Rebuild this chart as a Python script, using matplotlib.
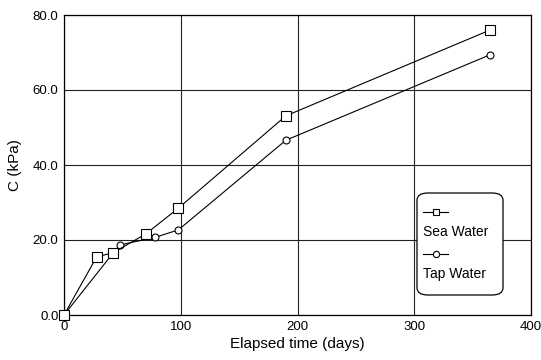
import matplotlib.pyplot as plt
from matplotlib.patches import FancyBboxPatch
from matplotlib.lines import Line2D

plt.rcParams['font.family'] = ['Liberation Sans', 'DejaVu Sans']

# values
sea_days = [0, 28, 42, 70, 98, 190, 365]
sea_c = [0.0, 15.5, 16.6, 21.6, 28.5, 53.1, 76.0]
tap_days = [0, 42, 48, 78, 98, 190, 365]
tap_c = [0.0, 16.5, 18.7, 20.7, 22.7, 46.6, 69.4]

x_ticks = [0, 100, 200, 300, 400]
y_ticks = [0, 20, 40, 60, 80]

W, H = 541, 360
fig = plt.figure(figsize=(W / 100, H / 100), dpi=100)
ax = fig.add_axes([64 / W, 1 - 315 / H, (531 - 64) / W, (315 - 15) / H])

ax.plot(sea_days, sea_c, '-', color='black', lw=0.8, marker='s', ms=6.5,
        mfc='white', mec='black', mew=0.8, zorder=4, clip_on=False)
ax.plot(tap_days, tap_c, '-', color='black', lw=0.8, marker='o', ms=5,
        mfc='white', mec='black', mew=0.8, zorder=3, clip_on=False)

ax.set_xlim(0, 400)
ax.set_ylim(0, 80)
ax.set_xticks(x_ticks)
ax.set_yticks(y_ticks)
ax.set_yticklabels([f"{v:.1f}" for v in y_ticks])
ax.tick_params(length=0, labelsize=9.5, pad=4)
ax.grid(True, color='#222222', lw=0.8)
ax.set_axisbelow(True)
for s in ax.spines.values():
   s.set_linewidth(0.9)

ax.set_xlabel("Elapsed time (days)", fontsize=11, labelpad=3)
ax.set_ylabel("C (kPa)", fontsize=11, labelpad=8)

# legend: marker sample above each label, drawn in figure pixels
def fx(px):
   return px / W

def fy(py):
   return 1 - py / H

box = FancyBboxPatch((fx(417), fy(295)), fx(503) - fx(417), fy(193) - fy(295),
                     boxstyle="round,pad=0,rounding_size=0.02",
                     transform=fig.transFigure, facecolor='white',
                     edgecolor='black', lw=0.9, zorder=10)
fig.add_artist(box)

for py, mk, ms, label, ty in [(212, 's', 5, "Sea Water", 232), (254, 'o', 4.5, "Tap Water", 274)]:
   fig.add_artist(Line2D([fx(423), fx(448)], [fy(py), fy(py)], transform=fig.transFigure,
                         color='black', lw=0.8, marker=None, zorder=11))
   fig.add_artist(Line2D([fx(436)], [fy(py)], transform=fig.transFigure, marker=mk, ms=ms,
                         mfc='white', mec='black', mew=0.8, zorder=12))
   fig.text(fx(423), fy(ty), label, fontsize=10, va='center', ha='left', zorder=12)

fig.savefig("out.png", dpi=100)
